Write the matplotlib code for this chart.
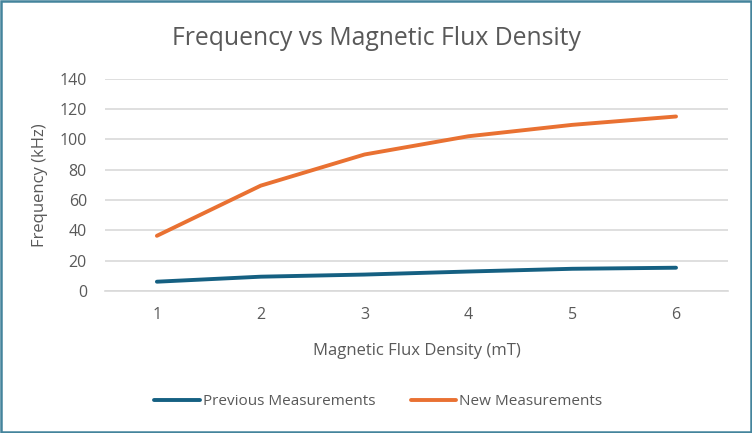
import matplotlib.pyplot as plt
from matplotlib.patches import Rectangle

# data
flux = [1, 2, 3, 4, 5, 6]
prev_freq = [6.3, 9.6, 11, 13, 14.8, 15.5]
new_freq = [36.5, 69.5, 90, 102, 109.5, 115]
yticks = [0, 20, 40, 60, 80, 100, 120, 140]

plt.rcParams['font.family'] = ['Open Sans', 'DejaVu Sans']
txt = '#595959'

fig = plt.figure(figsize=(7.52, 4.33), dpi=100)
ax = fig.add_axes([0.1396, 0.3273, 0.8284, 0.4914])

ax.plot(range(len(flux)), prev_freq, color='#156082', lw=2.8,
        solid_capstyle='round', solid_joinstyle='round', label='Previous Measurements')
ax.plot(range(len(flux)), new_freq, color='#E97132', lw=2.8,
        solid_capstyle='round', solid_joinstyle='round', label='New Measurements')

ax.set_xlim(-0.5, len(flux) - 0.5)
ax.set_ylim(0, 140)
ax.set_xticks(range(len(flux)))
ax.set_xticklabels([str(v) for v in flux])
ax.set_yticks(yticks)
ax.grid(axis='y', color='#d9d9d9', lw=1.2)
ax.set_axisbelow(True)
for s in ['top', 'right', 'left']:
    ax.spines[s].set_visible(False)
ax.spines['bottom'].set_color('#d9d9d9')
ax.spines['bottom'].set_linewidth(1.2)
ax.tick_params(length=0, labelsize=11.5, colors=txt, pad=11)
ax.tick_params(axis='y', pad=13)

ax.set_xlabel('Magnetic Flux Density (mT)', fontsize=12, color=txt, labelpad=15)
ax.set_ylabel('Frequency (kHz)', fontsize=12, color=txt, labelpad=8)
fig.text(0.5, 0.912, 'Frequency vs Magnetic Flux Density', ha='center', va='center',
         fontsize=17.8, color=txt)

fig.legend(loc='center', bbox_to_anchor=(0.503, 0.073), ncol=2, frameon=False,
           fontsize=11, labelcolor=txt, handlelength=3.0, handletextpad=0.2,
           columnspacing=2.3)

fig.patches.append(Rectangle((0.0015, 0.002), 0.997, 0.996, transform=fig.transFigure,
                             fill=False, edgecolor='#44849c', lw=1.8))

fig.savefig('out.png', dpi=100)
